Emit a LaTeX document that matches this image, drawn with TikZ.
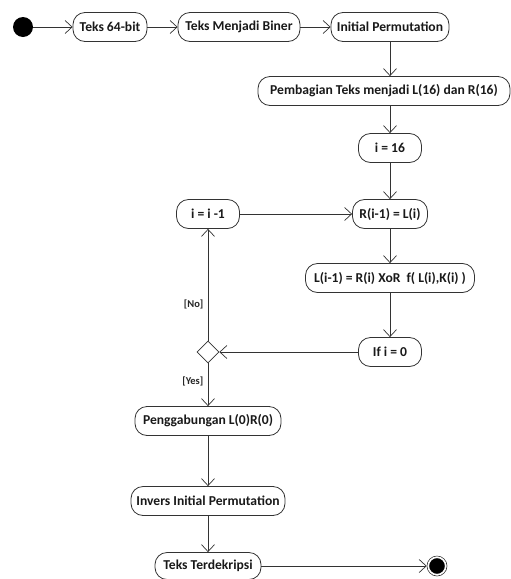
\documentclass[tikz,border=0pt]{standalone}
\usepackage{fontspec}
\setmainfont{Carlito}
\usetikzlibrary{arrows.meta,shapes.geometric}
\begin{document}
\begin{tikzpicture}[x=1pt,y=-1pt,
  act/.style={draw=black!80, line width=0.8pt, rounded corners=12pt,
    minimum height=29pt, inner xsep=2pt, font=\bfseries\fontsize{13.6}{15}\selectfont,
    text=black!90, anchor=center},
  flow/.style={draw=black!80, line width=0.7pt,
    -{Straight Barb[length=7pt,width=13pt,line width=0.7pt]}},
  guard/.style={font=\bfseries\fontsize{10.5}{11}\selectfont, text=black!85},
  initial/.style={circle, fill=black, minimum size=20pt, inner sep=0pt},
  final/.style={circle, fill=black, draw=white, line width=1.2pt,
    minimum size=17pt, inner sep=0pt},
  choice/.style={diamond, draw=black!80, line width=0.7pt, fill=white,
    minimum size=22pt, inner sep=0pt}]
\useasboundingbox (0,0) rectangle (511,579);

% start
\node[initial] (start) at (23,27) {};
% top row
\node[act, minimum width=74pt] (teks) at (110,27) {Teks 64-bit};
\node[act, minimum width=122pt] (biner) at (239,27) {Teks Menjadi Biner};
\node[act, minimum width=118pt] (ip) at (390,27) {Initial Permutation};
% main column
\node[act, minimum width=252pt] (bagi) at (384,91) {Pembagian Teks menjadi L(16) dan R(16)};
\node[act, minimum width=63pt] (i16) at (390,148) {i = 16};
\node[act, minimum width=75pt] (rl) at (390,214) {R(i-1) = L(i)};
\node[act, minimum width=169pt] (lr) at (390,278) {L(i-1) = R(i) XoR\ \ f( L(i),K(i) )};
\node[act, minimum width=63pt] (if0) at (390,352) {If i = 0};
% loop back
\node[act, minimum width=63pt] (dec) at (208,214) {i = i -1};
\node[choice] (dia) at (208,352) {};
% output column
\node[act, minimum width=146pt] (gab) at (208,421) {Penggabungan L(0)R(0)};
\node[act, minimum width=154pt] (inv) at (208,501) {Invers Initial Permutation};
\node[act, minimum width=106pt, minimum height=27pt] (dek) at (208,566) {Teks Terdekripsi};
% end
\node[draw=black!80, line width=0.6pt, circle, minimum size=20pt, inner sep=0pt] (endring) at (437,566) {};
\node[final] (end) at (437,566) {};

% connectors
\draw[flow] (start) -- (teks);
\draw[flow] (teks) -- (biner);
\draw[flow] (biner) -- (ip);
\draw[flow] (ip.south) -- (ip.south |- bagi.north);
\draw[flow] (ip.south |- bagi.south) -- (i16);
\draw[flow] (i16) -- (rl);
\draw[flow] (rl) -- (lr.north -| rl.south);
\draw[flow] (lr.south -| if0.north) -- (if0);
\draw[flow] (if0) -- (dia.east);
\draw[flow] (dia.north) -- node[guard, left=1pt, pos=0.32] {[No]} (dec);
\draw[flow] (dec) -- (rl);
\draw[flow] (dia.south) -- node[guard, left=1pt, pos=0.42] {[Yes]} (gab);
\draw[flow] (gab) -- (inv);
\draw[flow] (inv) -- (dek);
\draw[flow] (dek) -- (endring);
\end{tikzpicture}
\end{document}
